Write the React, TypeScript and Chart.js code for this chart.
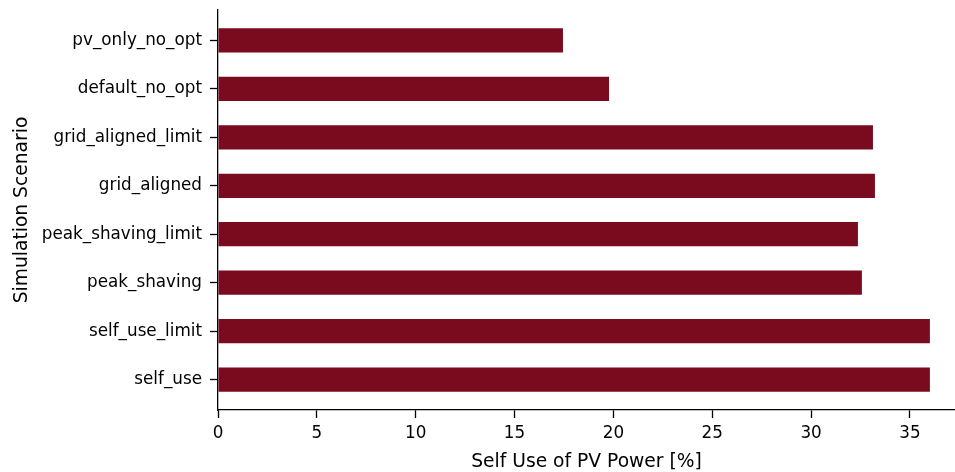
import React, { useEffect, useRef } from "react";
import { Chart, registerables } from "chart.js";

Chart.register(...registerables);

const scenarios = [
  "pv_only_no_opt",
  "default_no_opt",
  "grid_aligned_limit",
  "grid_aligned",
  "peak_shaving_limit",
  "peak_shaving",
  "self_use_limit",
  "self_use",
];
const selfUse = [17.45, 19.78, 33.13, 33.23, 32.37, 32.57, 36.01, 36.01];
const xTicks = [0, 5, 10, 15, 20, 25, 30, 35];
const xMax = 37.28;
const yMin = -0.625;
const yMax = 7.625;
const xTitle = "Self Use of PV Power [%]";
const yTitle = "Simulation Scenario";
const barColor = "#7a0b1e";

export default function App() {
  const ref = useRef<HTMLCanvasElement | null>(null);

  useEffect(() => {
    document.body.style.margin = "0";
    const ctx = ref.current!.getContext("2d")!;
    const font = "'DejaVu Sans', sans-serif";
    const chart = new Chart(ctx, {
      type: "bar",
      data: {
        datasets: [
          {
            data: selfUse.map((v, i) => ({ x: v, y: i })),
            backgroundColor: barColor,
            borderWidth: 0,
            barPercentage: 0.5,
            categoryPercentage: 1,
          },
        ],
      },
      options: {
        indexAxis: "y",
        animation: false,
        responsive: false,
        maintainAspectRatio: false,
        layout: { padding: { left: 0, right: 0, top: 10, bottom: 0 } },
        plugins: { legend: { display: false }, tooltip: { enabled: false } },
        scales: {
          x: {
            type: "linear",
            min: 0,
            max: xMax,
            offset: false,
            afterBuildTicks: (axis: any) => {
              axis.ticks = xTicks.map((v) => ({ value: v }));
            },
            afterFit: (scale: any) => {
              scale.height = 62;
              scale.paddingLeft = 0;
              scale.paddingRight = 0;
            },
            grid: {
              offset: false,
              drawOnChartArea: false,
              drawTicks: true,
              tickLength: 8,
              tickWidth: 1.3,
              tickColor: "#000",
            },
            border: { display: true, color: "#000", width: 1.3 },
            ticks: {
              color: "#000",
              font: { family: font, size: 16.8 },
              padding: 6,
              maxRotation: 0,
              autoSkip: false,
            },
            title: {
              display: true,
              text: xTitle,
              color: "#000",
              font: { family: font, size: 18.7 },
              padding: { top: 0, bottom: -1 },
            },
          },
          y: {
            type: "linear",
            min: yMin,
            max: yMax,
            reverse: true,
            offset: false,
            afterBuildTicks: (axis: any) => {
              axis.ticks = scenarios.map((_, i) => ({ value: i }));
            },
            afterFit: (scale: any) => {
              scale.width = 218;
              scale.paddingTop = 0;
              scale.paddingBottom = 0;
            },
            grid: {
              offset: false,
              drawOnChartArea: false,
              drawTicks: true,
              tickLength: 8,
              tickWidth: 1.3,
              tickColor: "#000",
            },
            border: { display: true, color: "#000", width: 1.3 },
            ticks: {
              color: "#000",
              font: { family: font, size: 16.8 },
              padding: 8,
              autoSkip: false,
              callback: (v: any) => scenarios[Math.round(Number(v))] ?? "",
            },
            title: {
              display: true,
              text: yTitle,
              color: "#000",
              font: { family: font, size: 18.7 },
              padding: { top: 11, bottom: 0 },
            },
          },
        },
      },
    });
    return () => chart.destroy();
  }, []);

  return (
    <div style={{ position: "absolute", left: 0, top: 0, width: 955, height: 472 }}>
      <canvas ref={ref} width={955} height={472} style={{ display: "block" }} />
    </div>
  );
}
